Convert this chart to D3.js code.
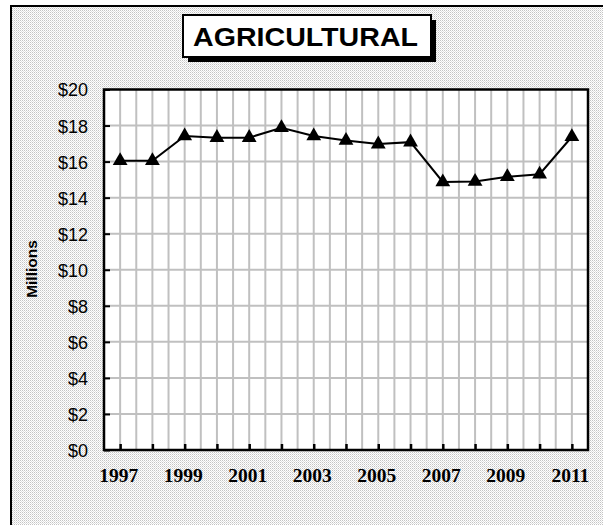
<!DOCTYPE html>
<html><head><meta charset="utf-8">
<script src="https://cdn.jsdelivr.net/npm/d3@7"></script>
<style>html,body{margin:0;padding:0;background:#fff;}svg{display:block;}</style>
</head><body>
<script>
const title = "AGRICULTURAL";
const years = [1997,1998,1999,2000,2001,2002,2003,2004,2005,2006,2007,2008,2009,2010,2011];
const values = [16.05,16.05,17.42,17.33,17.33,17.88,17.42,17.17,16.97,17.08,14.87,14.9,15.16,15.3,17.38];
const yTicks = [0,2,4,6,8,10,12,14,16,18,20];
const xTickLabels = [1997,1999,2001,2003,2005,2007,2009,2011];
const yAxisTitle = "Millions";

const W = 603, H = 525;
const svg = d3.select("body").append("svg").attr("width", W).attr("height", H);
const defs = svg.append("defs");
const pat = defs.append("pattern").attr("id","dots").attr("width",2).attr("height",2).attr("patternUnits","userSpaceOnUse");
pat.append("rect").attr("width",2).attr("height",2).attr("fill","#ffffff");
pat.append("rect").attr("x",0).attr("y",0).attr("width",1).attr("height",1).attr("fill","#c4c4c4");
pat.append("rect").attr("x",1).attr("y",1).attr("width",1).attr("height",1).attr("fill","#e0e0e0");

// outer frame
svg.append("rect").attr("x",11).attr("y",6).attr("width",W+20).attr("height",H+20)
  .attr("fill","url(#dots)").attr("stroke","#000").attr("stroke-width",2);

const L = 104, R = 588, T = 89.5, B = 450;
const x = d3.scaleLinear().domain([1996.5, 2011.5]).range([L, R]);
const y = d3.scaleLinear().domain([0, 20]).range([B, T]);

// plot background
svg.append("rect").attr("x",L).attr("y",T).attr("width",R-L).attr("height",B-T).attr("fill","#fff");

// grid
const halfYears = d3.range(1997, 2011.6, 0.5);
svg.append("g").selectAll("line").data(halfYears).join("line")
  .attr("x1",d=>x(d)).attr("x2",d=>x(d)).attr("y1",T).attr("y2",B)
  .attr("stroke","#c0c0c0").attr("stroke-width",2);
svg.append("g").selectAll("line").data(yTicks.slice(1,-1)).join("line")
  .attr("x1",L).attr("x2",R).attr("y1",d=>y(d)).attr("y2",d=>y(d))
  .attr("stroke","#c0c0c0").attr("stroke-width",2);

// axes
const yAxis = d3.axisLeft(y).tickValues(yTicks).tickSize(-6).tickPadding(16).tickFormat(d=>"$"+d);
const gy = svg.append("g").attr("transform",`translate(${L},0)`).call(yAxis);
gy.select(".domain").remove();
gy.selectAll(".tick line").attr("stroke","#000").attr("stroke-width",2);
gy.selectAll(".tick text").attr("font-family","Liberation Sans, Arial, sans-serif").attr("font-size",18).attr("fill","#000").attr("dy","0.36em");

const xAxis = d3.axisBottom(x).tickValues(years).tickSize(-6).tickPadding(0).tickFormat(d=> xTickLabels.includes(d) ? d : "");
const gx = svg.append("g").attr("transform",`translate(0,${B})`).call(xAxis);
gx.select(".domain").remove();
gx.selectAll(".tick line").attr("stroke","#000").attr("stroke-width",2.5);
gx.selectAll(".tick text").attr("font-family","Liberation Serif, Times New Roman, serif").attr("font-weight","bold")
  .attr("font-size",19.5).attr("fill","#000").attr("y",32).attr("dy",0).attr("dx",-2);

// plot border
svg.append("rect").attr("x",L).attr("y",T).attr("width",R-L).attr("height",B-T)
  .attr("fill","none").attr("stroke","#000").attr("stroke-width",2.5);

// y-axis title
svg.append("text").attr("transform","translate(37,269) rotate(-90)").attr("text-anchor","middle")
  .attr("font-family","Liberation Sans, Arial, sans-serif").attr("font-weight","bold").attr("font-size",15.5)
  .text(yAxisTitle);

// line
const line = d3.line().x((d,i)=>x(years[i])).y(d=>y(d));
svg.append("path").datum(values).attr("d",line).attr("fill","none").attr("stroke","#000").attr("stroke-width",2);
const tri = d3.symbol().type(d3.symbolTriangle).size(95);
svg.append("g").selectAll("path").data(values).join("path")
  .attr("d",tri).attr("transform",(d,i)=>`translate(${x(years[i])},${y(d)})`).attr("fill","#000");

// title box
svg.append("rect").attr("x",188).attr("y",20).attr("width",248).attr("height",42).attr("fill","#000");
svg.append("rect").attr("x",183).attr("y",15).attr("width",248).attr("height",42).attr("fill","#fff").attr("stroke","#000").attr("stroke-width",2);
svg.append("text").attr("x",193).attr("y",45.5)
  .attr("font-family","Liberation Sans, Arial, sans-serif").attr("font-weight","bold").attr("font-size",25)
  .attr("textLength",225).attr("lengthAdjust","spacingAndGlyphs").text(title);
</script>
</body></html>
